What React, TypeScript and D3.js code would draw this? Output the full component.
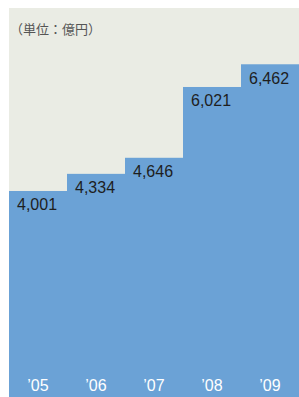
import { useEffect, useRef } from "react";
import * as d3 from "d3";

const years = ["’05", "’06", "’07", "’08", "’09"];
const values = [4001, 4334, 4646, 6021, 6462];
const unitLabel = "（単位：億円）";

const W = 299;
const H = 397;

export default function App() {
  const svgRef = useRef<SVGSVGElement | null>(null);

  useEffect(() => {
    if (!svgRef.current) return;
    const svg = d3.select(svgRef.current);
    svg.selectAll("*").remove();

    const left = 9;
    const right = 299;
    const top = 8;
    const bottom = 397;

    const x = d3.scaleBand<string>().domain(years).range([left, right]).padding(0);
    const y = d3.scaleLinear().domain([0, 7555]).range([bottom, top]);

    // panel
    svg
      .append("rect")
      .attr("x", left)
      .attr("y", top)
      .attr("width", right - left)
      .attr("height", bottom - top)
      .attr("fill", "#eaece4");

    svg
      .append("text")
      .attr("x", 10)
      .attr("y", 34)
      .attr("font-family", "'Noto Sans CJK JP', sans-serif")
      .attr("font-size", "13px")
      .attr("fill", "#555")
      .text(unitLabel);

    const bars = years.map((yr, i) => ({ yr, v: values[i] }));

    svg
      .append("g")
      .selectAll("rect")
      .data(bars)
      .join("rect")
      .attr("x", (d) => x(d.yr)!)
      .attr("y", (d) => y(d.v))
      .attr("width", x.bandwidth() + 0.5)
      .attr("height", (d) => bottom - y(d.v))
      .attr("fill", "#6ba2d6");

    svg
      .append("g")
      .selectAll("text")
      .data(bars)
      .join("text")
      .attr("x", (d) => x(d.yr)! + 8)
      .attr("y", (d) => y(d.v) + 19.5)
      .attr("font-family", "'Liberation Sans', Arial, sans-serif")
      .attr("font-size", "16px")
      .attr("fill", "#1e1e1e")
      .text((d) => d3.format(",")(d.v));

    svg
      .append("g")
      .selectAll("text")
      .data(years)
      .join("text")
      .attr("x", (d) => x(d)! + x.bandwidth() / 2)
      .attr("y", 391)
      .attr("text-anchor", "middle")
      .attr("font-family", "'Liberation Sans', Arial, sans-serif")
      .attr("font-size", "16px")
      .attr("fill", "#fff")
      .text((d) => d);
  }, []);

  return (
    <div style={{ position: "fixed", left: 0, top: 0 }}>
      <svg ref={svgRef} width={W} height={H} style={{ display: "block" }} />
    </div>
  );
}
